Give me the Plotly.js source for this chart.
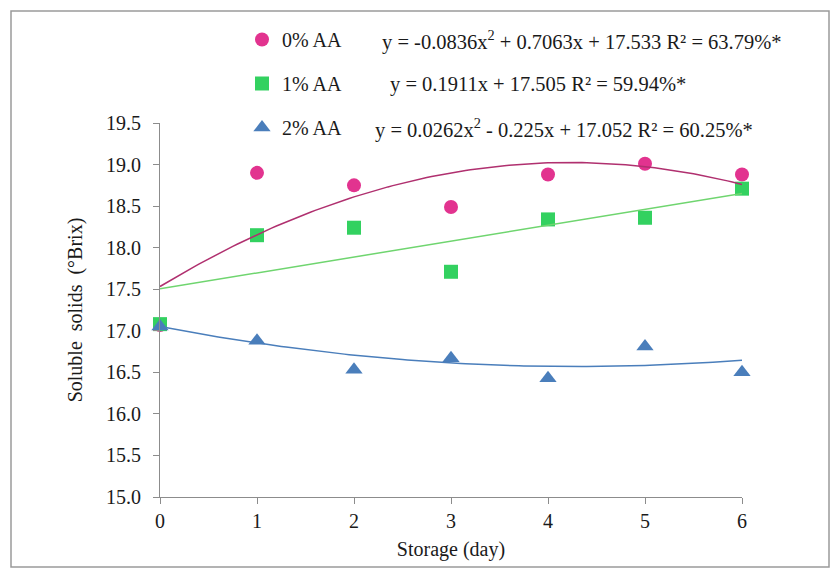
<!DOCTYPE html>
<html>
<head>
<meta charset="utf-8">
<script src="https://cdn.plot.ly/plotly-3.0.1.min.js"></script>
<style>
  html, body { margin: 0; padding: 0; background: #fff; }
  #chart { width: 831px; height: 570px; }
</style>
</head>
<body>
<div id="chart"></div>
<script>
// ---- data ----
const days = [0, 1, 2, 3, 4, 5, 6];
const seriesNames = ['0% AA', '1% AA', '2% AA'];
const aa0 = [17.07, 18.90, 18.75, 18.49, 18.88, 19.01, 18.88];
const aa1 = [17.08, 18.15, 18.24, 17.71, 18.34, 18.36, 18.71];
const aa2 = [17.05, 16.88, 16.53, 16.67, 16.43, 16.81, 16.50];
// trend coefficients [c0, c1, c2] for y = c0 + c1*x + c2*x^2 (as printed on the chart)
const fit0 = [17.533, 0.7063, -0.0836];
const fit1 = [17.505, 0.1911, 0];
const fit2 = [17.052, -0.225, 0.0262];
const equations = [
  'y = -0.0836x<sup>2</sup> + 0.7063x + 17.533 R² = 63.79%*',
  'y = 0.1911x + 17.505 R² = 59.94%*',
  'y = 0.0262x<sup>2</sup> - 0.225x + 17.052 R² = 60.25%*'
];
const yTicks = [15.0, 15.5, 16.0, 16.5, 17.0, 17.5, 18.0, 18.5, 19.0, 19.5];
const yTickText = ['15.0', '15.5', '16.0', '16.5', '17.0', '17.5', '18.0', '18.5', '19.0', '19.5'];

// ---- styling ----
const markerColors = ['#E2338F', '#33D160', '#4A7EBB'];
const lineColors = ['#B0306F', '#6FD56F', '#4A7EBB'];
const symbols = ['circle', 'square', 'triangle-up'];
const FONT = 'Liberation Serif';

function trend(c) {
  const xs = [], ys = [];
  const n = 120;
  for (let i = 0; i <= n; i++) {
    const x = days[0] + (days[days.length - 1] - days[0]) * i / n;
    xs.push(x);
    ys.push(c[0] + c[1] * x + c[2] * x * x);
  }
  return {x: xs, y: ys};
}

const values = [aa0, aa1, aa2];
const fits = [fit0, fit1, fit2];
const traces = [];
values.forEach((v, i) => {
  traces.push({
    type: 'scatter', mode: 'markers', x: days, y: v, name: seriesNames[i],
    legendgroup: 'g' + i,
    marker: {symbol: symbols[i], color: markerColors[i], size: i === 2 ? 15 : 14},
    cliponaxis: false, hoverinfo: 'x+y'
  });
});
fits.forEach((c, i) => {
  const t = trend(c);
  traces.push({
    type: 'scatter', mode: 'lines', x: t.x, y: t.y, showlegend: false,
    line: {color: lineColors[i], width: 1.5}, hoverinfo: 'skip'
  });
});

// pixel helpers for paper coords (plot area 160..742 x, 123..497 y)
const L = 160, R = 742, T = 123, B = 497;
const px = p => (p - L) / (R - L);
const py = p => (B - p) / (B - T);

const eqRows = [40, 84, 128];
const eqX = [380, 388, 373];
const annotations = equations.map((e, i) => ({
  text: e, xref: 'paper', yref: 'paper', x: px(eqX[i]), y: py(eqRows[i]),
  xanchor: 'left', yanchor: 'middle', showarrow: false,
  font: {family: FONT, size: 20.5, color: '#1a1a1a'}
}));

const layout = {
  width: 831, height: 570,
  margin: {l: L, r: 831 - R, t: T, b: 570 - B, pad: 0},
  paper_bgcolor: '#ffffff', plot_bgcolor: '#ffffff',
  font: {family: FONT, size: 20, color: '#1a1a1a'},
  showlegend: true,
  legend: {
    x: px(242), y: py(20), xanchor: 'left', yanchor: 'top',
    bgcolor: 'rgba(0,0,0,0)', tracegroupgap: 15,
    font: {family: FONT, size: 20, color: '#1a1a1a'}
  },
  xaxis: {
    range: [0, 6], tickvals: days, ticktext: days.map(String),
    showgrid: false, zeroline: false, showline: true, linecolor: '#8c8c8c', linewidth: 1,
    ticks: 'outside', ticklen: 6, tickcolor: '#8c8c8c',
    tickfont: {family: FONT, size: 20, color: '#1a1a1a'},
    title: {text: 'Storage (day)', font: {family: FONT, size: 20, color: '#1a1a1a'}, standoff: 10}
  },
  yaxis: {
    range: [15, 19.5], tickvals: yTicks, ticktext: yTickText,
    showgrid: false, zeroline: false, showline: true, linecolor: '#8c8c8c', linewidth: 1,
    ticks: 'outside', ticklen: 6, tickcolor: '#8c8c8c',
    ticklabelstandoff: 8,
    tickfont: {family: FONT, size: 20, color: '#1a1a1a'},
    title: {text: 'Soluble  solids  (°Brix)', font: {family: FONT, size: 20, color: '#1a1a1a'}, standoff: 18}
  },
  annotations: annotations,
  shapes: [{
    type: 'rect', xref: 'paper', yref: 'paper',
    x0: px(11), x1: px(829), y0: py(567), y1: py(11),
    line: {color: '#9a9a9a', width: 1.5}, fillcolor: 'rgba(0,0,0,0)', layer: 'below'
  }]
};

Plotly.newPlot('chart', traces, layout, {displayModeBar: false, staticPlot: true});
</script>
</body>
</html>
